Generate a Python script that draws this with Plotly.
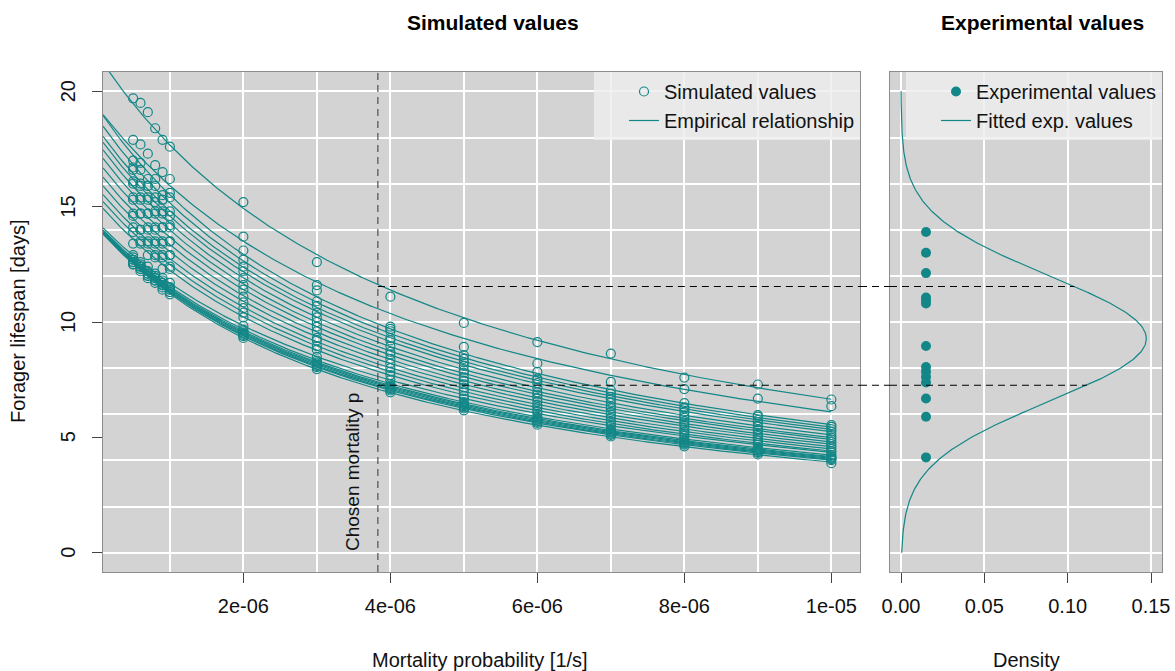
import numpy as np
import plotly.graph_objects as go

# ---------------- data ----------------
mortality_p = [5e-7, 6e-7, 7e-7, 8e-7, 9e-7, 1e-6, 2e-6, 3e-6, 4e-6, 5e-6,
               6e-6, 7e-6, 8e-6, 9e-6, 1e-5]

# simulated forager lifespans [days], one list per simulated parameter set
sim_run_01 = [19.7, 19.5, 19.1, 18.4, 17.9, 17.6, 15.2, 12.6, 11.1, 9.96, 9.13, 8.63, 7.59, 7.29, 6.64]
sim_run_02 = [17.9, 17.7, 17.3, 16.8, 16.5, 16.2, 13.7, 11.6, 9.8, 8.92, 8.2, 7.4, 7.09, 6.68, 6.35]
sim_run_03 = [17.0, 16.9, 16.2, 16.2, 15.5, 15.6, 13.1, 11.37, 9.7, 8.56, 7.84, 7.04, 6.48, 5.96, 5.53]
sim_run_04 = [16.6, 16.6, 15.9, 15.9, 15.3, 15.4, 12.7, 10.9, 9.6, 8.4, 7.55, 6.9, 6.3, 5.9, 5.45]
sim_run_05 = [16.7, 15.9, 15.9, 15.2, 15.3, 14.6, 12.4, 10.7, 9.3, 8.25, 7.5, 6.75, 6.25, 5.75, 5.35]
sim_run_06 = [16.0, 16.0, 15.3, 15.4, 14.7, 14.8, 12.2, 10.4, 9.2, 8.1, 7.35, 6.65, 6.1, 5.65, 5.25]
sim_run_07 = [16.1, 15.3, 15.4, 14.7, 14.8, 14.1, 11.9, 10.2, 8.95, 7.9, 7.15, 6.5, 5.95, 5.5, 5.1]
sim_run_08 = [15.3, 15.4, 14.7, 14.8, 14.1, 14.2, 11.6, 10.0, 8.7, 7.8, 6.95, 6.35, 5.85, 5.35, 5.0]
sim_run_09 = [15.4, 14.7, 14.7, 14.0, 14.1, 13.5, 11.4, 9.8, 8.6, 7.6, 6.85, 6.25, 5.7, 5.3, 4.9]
sim_run_10 = [14.6, 14.7, 14.0, 14.1, 13.4, 13.5, 11.1, 9.6, 8.4, 7.45, 6.7, 6.1, 5.6, 5.15, 4.8]
sim_run_11 = [14.7, 14.0, 14.1, 13.4, 13.5, 12.9, 10.85, 9.3, 8.2, 7.3, 6.55, 6.0, 5.5, 5.05, 4.7]
sim_run_12 = [13.9, 14.0, 13.4, 13.5, 12.8, 12.9, 10.6, 9.2, 8.0, 7.15, 6.4, 5.85, 5.35, 4.95, 4.6]
sim_run_13 = [14.1, 13.4, 13.5, 12.8, 12.9, 12.3, 10.4, 8.95, 7.85, 7.0, 6.3, 5.7, 5.25, 4.85, 4.5]
sim_run_14 = [13.4, 13.5, 12.9, 12.9, 12.3, 12.4, 10.2, 8.8, 7.7, 6.8, 6.15, 5.6, 5.15, 4.75, 4.4]
sim_run_15 = [12.9, 12.6, 12.4, 12.1, 11.9, 11.7, 9.83, 8.49, 7.48, 6.68, 6.03, 5.50, 5.05, 4.68, 4.35]
sim_run_16 = [12.8, 12.5, 12.2, 12.0, 11.8, 11.5, 9.67, 8.33, 7.32, 6.53, 5.89, 5.36, 4.92, 4.55, 4.23]
sim_run_17 = [12.7, 12.4, 12.2, 11.9, 11.7, 11.5, 9.60, 8.25, 7.24, 6.45, 5.81, 5.29, 4.85, 4.49, 4.17]
sim_run_18 = [12.7, 12.4, 12.1, 11.9, 11.6, 11.4, 9.54, 8.20, 7.19, 6.40, 5.77, 5.25, 4.81, 4.45, 4.13]
sim_run_19 = [12.6, 12.4, 12.1, 11.8, 11.6, 11.4, 9.49, 8.15, 7.14, 6.35, 5.72, 5.20, 4.76, 4.41, 4.09]
sim_run_20 = [12.6, 12.3, 12.0, 11.8, 11.6, 11.3, 9.44, 8.09, 7.08, 6.30, 5.67, 5.15, 4.72, 4.36, 4.05]
sim_run_21 = [12.5, 12.3, 12.0, 11.8, 11.5, 11.3, 9.39, 8.04, 7.03, 6.25, 5.62, 5.11, 4.68, 4.32, 4.01]
sim_run_22 = [12.5, 12.2, 11.9, 11.7, 11.4, 11.2, 9.31, 7.96, 6.95, 6.17, 5.55, 5.04, 4.61, 4.26, 3.88]

# experimental forager lifespans [days]
exp_lifespan = [13.9, 13.0, 12.12, 11.06, 10.94, 10.8, 8.96, 8.05, 7.84, 7.62, 7.38, 6.68, 5.89, 4.13]
# fitted normal distribution of the experimental values
fit_mean = 9.28
fit_sd = 2.71

chosen_p = 3.83e-6
chosen_lifespan_range = [7.26, 11.54]

x_tickvals = [2e-6, 4e-6, 6e-6, 8e-6, 1e-5]
x_ticktext = ["2e-06", "4e-06", "6e-06", "8e-06", "1e-05"]
y_tickvals = [0, 5, 10, 15, 20]
d_tickvals = [0.0, 0.05, 0.10, 0.15]
d_ticktext = ["0.00", "0.05", "0.10", "0.15"]

# ---------------- styling ----------------
TEAL = "#138787"
FONT = "Liberation Sans, Arial, sans-serif"
BG = "#d3d3d3"
W, H = 1175, 671
X1_RANGE = [0.09e-6, 1.039e-5]
X2_RANGE = [-0.0066, 0.1566]
Y_RANGE = [-0.84, 20.84]
DOM1 = [103 / W, 860 / W]
DOM2 = [890 / W, 1162 / W]
DOMY = [(H - 572) / H, (H - 72) / H]

runs = [sim_run_01, sim_run_02, sim_run_03, sim_run_04, sim_run_05, sim_run_06,
        sim_run_07, sim_run_08, sim_run_09, sim_run_10, sim_run_11, sim_run_12,
        sim_run_13, sim_run_14, sim_run_15, sim_run_16, sim_run_17, sim_run_18,
        sim_run_19, sim_run_20, sim_run_21, sim_run_22]

fig = go.Figure()

# simulated points
px_all, py_all = [], []
for r in runs:
    px_all += mortality_p
    py_all += r
fig.add_trace(go.Scatter(
    x=px_all, y=py_all, mode="markers", name="Simulated values",
    marker=dict(symbol="circle-open", size=9, color=TEAL, line=dict(width=1.2, color=TEAL)),
    xaxis="x", yaxis="y", legend="legend", hoverinfo="skip"))

# empirical relationship: 1/L = a + b p fitted per run
p_arr = np.array(mortality_p)
xs = np.linspace(X1_RANGE[0], 1e-5, 300)
lx, ly = [], []
for r in runs:
    b, a = np.polyfit(p_arr, 1.0 / np.array(r), 1)
    lx += list(xs) + [None]
    ly += list(1.0 / (a + b * xs)) + [None]
fig.add_trace(go.Scatter(
    x=lx, y=ly, mode="lines", name="Empirical relationship",
    line=dict(color=TEAL, width=1.2), xaxis="x", yaxis="y",
    legend="legend", hoverinfo="skip"))

# experimental values (strip at a fixed density offset)
EXP_STRIP_X = 0.015
fig.add_trace(go.Scatter(
    x=[EXP_STRIP_X] * len(exp_lifespan), y=exp_lifespan, mode="markers",
    name="Experimental values",
    marker=dict(symbol="circle", size=10, color=TEAL),
    xaxis="x2", yaxis="y2", legend="legend2", hoverinfo="skip"))


def npdf(y):
    return np.exp(-0.5 * ((y - fit_mean) / fit_sd) ** 2) / (fit_sd * np.sqrt(2 * np.pi))


ys = np.linspace(0, 20, 500)
fig.add_trace(go.Scatter(
    x=npdf(ys), y=ys, mode="lines", name="Fitted exp. values",
    line=dict(color=TEAL, width=1.2), xaxis="x2", yaxis="y2",
    legend="legend2", hoverinfo="skip"))

# ---------------- shapes ----------------
shapes = []
DASH = "7px,5px"
shapes.append(dict(type="line", xref="x", yref="y domain", x0=chosen_p, x1=chosen_p,
                   y0=0, y1=1, line=dict(color="#444", width=1.1, dash=DASH)))
for yv in chosen_lifespan_range:
    shapes.append(dict(type="line", xref="x", yref="y", x0=chosen_p, x1=X1_RANGE[1],
                       y0=yv, y1=yv, line=dict(color="black", width=1.1, dash=DASH)))
    shapes.append(dict(type="line", xref="paper", yref="y", x0=DOM1[1], x1=DOM2[0],
                       y0=yv, y1=yv, line=dict(color="black", width=1.1, dash=DASH)))
    shapes.append(dict(type="line", xref="x2", yref="y2", x0=X2_RANGE[0], x1=float(npdf(yv)),
                       y0=yv, y1=yv, line=dict(color="black", width=1.1, dash=DASH)))

# ---------------- annotations ----------------
ann = [
    dict(text="<b>Simulated values</b>", x=493 / W, y=(H - 22) / H, xref="paper", yref="paper",
         showarrow=False, font=dict(size=21, family=FONT, color="black"),
         xanchor="center", yanchor="middle"),
    dict(text="<b>Experimental values</b>", x=1042 / W, y=(H - 22) / H, xref="paper", yref="paper",
         showarrow=False, font=dict(size=21, family=FONT, color="black"),
         xanchor="center", yanchor="middle"),
    dict(text="Mortality probability [1/s]", x=480 / W, y=(H - 660) / H, xref="paper", yref="paper",
         showarrow=False, font=dict(size=20, family=FONT, color="#111"),
         xanchor="center", yanchor="middle"),
    dict(text="Density", x=1026 / W, y=(H - 660) / H, xref="paper", yref="paper",
         showarrow=False, font=dict(size=20, family=FONT, color="#111"),
         xanchor="center", yanchor="middle"),
    dict(text="Forager lifespan [days]", x=18 / W, y=(H - 322) / H, xref="paper", yref="paper",
         showarrow=False, textangle=-90, font=dict(size=20, family=FONT, color="#111"),
         xanchor="center", yanchor="middle"),
    dict(text="Chosen mortality p", x=chosen_p, y=0, xref="x", yref="y",
         showarrow=False, textangle=-90, font=dict(size=19, family=FONT, color="#111"),
         xanchor="right", yanchor="bottom", xshift=-13),
]
# rotated y tick labels (as in the reference), placed at the y tick values
for v in y_tickvals:
    ann.append(dict(text=str(v), x=DOM1[0], y=v, xref="paper", yref="y",
                    showarrow=False, textangle=-90, xshift=-35,
                    font=dict(size=20, family=FONT, color="#111"),
                    xanchor="center", yanchor="middle"))

axis_common = dict(showline=True, linecolor="#8c8c8c", linewidth=1, mirror=True,
                   zeroline=False, automargin=False, showgrid=False,
                   tickfont=dict(size=20, family=FONT, color="#111"),
                   ticks="outside", ticklen=10, tickcolor="#444", tickwidth=1.2)

legend_common = dict(yanchor="top", xanchor="right", y=DOMY[1],
                     bgcolor="rgba(238,238,238,0.82)", borderwidth=0,
                     font=dict(size=20, family=FONT, color="#111"),
                     tracegroupgap=0, indentation=30)

fig.update_layout(
    width=W, height=H, autosize=False,
    margin=dict(l=0, r=0, t=0, b=0),
    paper_bgcolor="white", plot_bgcolor=BG,
    font=dict(family=FONT, size=20, color="#111"),
    xaxis=dict(domain=DOM1, range=X1_RANGE, anchor="y", tickmode="array",
               tickvals=x_tickvals, ticktext=x_ticktext, ticklabelstandoff=6,
               minor=dict(tickmode="linear", tick0=0, dtick=1e-6, showgrid=True,
                          gridcolor="white", gridwidth=1.6, ticklen=0),
               **axis_common),
    yaxis=dict(domain=DOMY, range=Y_RANGE, anchor="x", tickmode="array",
               tickvals=y_tickvals, showticklabels=False,
               minor=dict(tickmode="linear", tick0=0, dtick=2, showgrid=True,
                          gridcolor="white", gridwidth=1.6, ticklen=0),
               **axis_common),
    xaxis2=dict(domain=DOM2, range=X2_RANGE, anchor="y2", tickmode="array",
                tickvals=d_tickvals, ticktext=d_ticktext, ticklabelstandoff=6,
                minor=dict(tickmode="array", tickvals=d_tickvals, showgrid=True,
                           gridcolor="white", gridwidth=1.6, ticklen=0),
                **axis_common),
    yaxis2=dict(domain=DOMY, range=Y_RANGE, anchor="x2", matches="y",
                showticklabels=False, tickvals=[],
                minor=dict(tickmode="linear", tick0=0, dtick=2, showgrid=True,
                           gridcolor="white", gridwidth=1.6, ticklen=0),
                showline=True, linecolor="#8c8c8c", linewidth=1, mirror=True,
                zeroline=False, automargin=False, showgrid=False, ticks=""),
    legend=dict(x=DOM1[1], **legend_common),
    legend2=dict(x=DOM2[1], **legend_common),
    shapes=shapes, annotations=ann,
)

fig.write_html("out.html", config={"displayModeBar": False},
               post_script="document.body.style.margin='0px';")
